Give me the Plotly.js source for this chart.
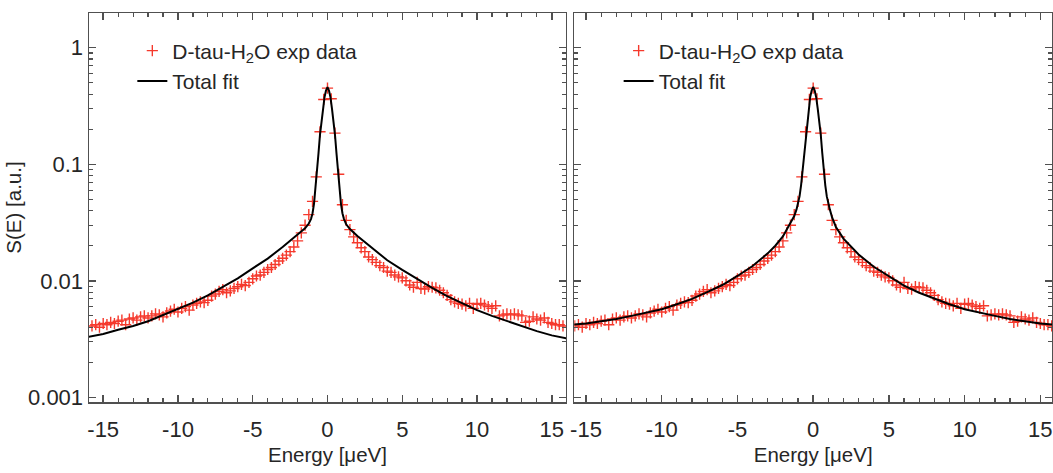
<!DOCTYPE html>
<html><head><meta charset="utf-8">
<script src="https://cdn.plot.ly/plotly-3.0.1.min.js"></script>
<style>html,body{margin:0;padding:0;background:#fff}</style>
</head><body><div id="chart" style="width:1053px;height:473px"></div>
<script>
// Energy grid of the experimental points [µeV]
const energy = [-15.75,-15.5,-15.25,-15,-14.75,-14.5,-14.25,-14,-13.75,-13.5,-13.25,-13,-12.75,-12.5,-12.25,-12,
 -11.75,-11.5,-11.25,-11,-10.75,-10.5,-10.25,-10,-9.75,-9.5,-9.25,-9,-8.75,-8.5,-8.25,-8,
 -7.75,-7.5,-7.25,-7,-6.75,-6.5,-6.25,-6,-5.75,-5.5,-5.25,-5,-4.75,-4.5,-4.25,-4,
 -3.75,-3.5,-3.25,-3,-2.75,-2.5,-2.25,-2,-1.75,-1.5,-1.25,-1,-0.75,-0.5,-0.25,0,
 0.25,0.5,0.75,1,1.25,1.5,1.75,2,2.25,2.5,2.75,3,3.25,3.5,3.75,4,
 4.25,4.5,4.75,5,5.25,5.5,5.75,6,6.25,6.5,6.75,7,7.25,7.5,7.75,8,
 8.25,8.5,8.75,9,9.25,9.5,9.75,10,10.25,10.5,10.75,11,11.25,11.5,11.75,12,
 12.25,12.5,12.75,13,13.25,13.5,13.75,14,14.25,14.5,14.75,15,15.25,15.5,15.75];
// D-tau-H2O experimental S(E)
const expData = [0.0041,0.0042,0.0040,0.0043,0.0042,0.0044,0.0043,0.0045,0.0046,0.0042,0.0047,0.0048,0.0046,0.0049,0.0050,0.0048,
 0.0050,0.0052,0.0051,0.0049,0.0053,0.0055,0.0057,0.0054,0.0058,0.0060,0.0056,0.0062,0.0064,0.0066,0.0065,0.0068,
 0.0074,0.0077,0.0081,0.0084,0.0079,0.0082,0.0086,0.0089,0.0093,0.0091,0.0097,0.0104,0.0110,0.0112,0.0118,0.0125,
 0.0130,0.0138,0.0148,0.0156,0.0166,0.0178,0.0195,0.0220,0.0258,0.0300,0.0370,0.0480,0.0780,0.190,0.360,0.450,
 0.365,0.185,0.082,0.045,0.033,0.0275,0.0238,0.0212,0.0192,0.0178,0.0160,0.0152,0.0144,0.0135,0.0130,0.0121,
 0.0118,0.0112,0.0108,0.0106,0.0100,0.0092,0.0088,0.0097,0.0086,0.0085,0.0089,0.0088,0.0087,0.0083,0.0079,0.0075,
 0.0069,0.0066,0.0064,0.0063,0.0061,0.0064,0.0058,0.0063,0.0064,0.0062,0.0060,0.0058,0.0061,0.0050,0.0051,0.0052,
 0.0051,0.0052,0.0051,0.0050,0.0044,0.0045,0.0049,0.0047,0.0046,0.0048,0.0044,0.0043,0.0042,0.0042,0.0041];
// Energy grid of the fit curves
const fitX = [-16,-15,-14,-13,-12,-11,-10,-9,-8,-7,-6,-5,-4,-3,-2.5,-2,-1.5,-1.25,-1.1,-1,-0.9,-0.8,-0.7,-0.6,-0.5,-0.4,-0.3,-0.2,-0.1,
 0,0.1,0.2,0.3,0.4,0.5,0.6,0.7,0.8,0.9,1,1.1,1.25,1.5,2,2.5,3,4,5,6,7,8,9,10,11,12,13,14,15,16];
// Total fit, left panel
const fitLeft = [0.0033,0.0035,0.0038,0.0041,0.0045,0.0051,0.0057,0.0065,0.0075,0.0088,0.0105,0.0128,0.0155,0.0195,0.0222,0.0250,0.0282,0.0310,0.0340,0.0380,0.046,0.062,0.087,0.125,0.18,0.235,0.30,0.375,0.43,
 0.46,0.43,0.375,0.30,0.235,0.18,0.125,0.087,0.062,0.046,0.038,0.034,0.0305,0.0278,0.0242,0.0215,0.0190,0.0150,0.0124,0.0103,0.0087,0.0074,0.0064,0.0056,0.0050,0.0045,0.0041,0.0037,0.0034,0.0032];
// Total fit, right panel
const fitRight = [0.0042,0.0043,0.0045,0.0047,0.0050,0.0053,0.0057,0.0063,0.0070,0.0080,0.0092,0.0110,0.0134,0.0172,0.0200,0.0240,0.031,0.036,0.041,0.046,0.053,0.066,0.088,0.125,0.18,0.235,0.30,0.375,0.43,
 0.46,0.43,0.375,0.30,0.235,0.18,0.125,0.088,0.066,0.053,0.046,0.041,0.035,0.029,0.023,0.0195,0.0168,0.0132,0.0109,0.0091,0.0079,0.0070,0.0063,0.0057,0.0053,0.0050,0.0047,0.0045,0.0043,0.0042];
// Tick labels
const xTickVals = [-15,-10,-5,0,5,10,15];
const xTickText = ['-15','-10','-5','0','5','10','15'];
const yTickVals = [0.001,0.01,0.1,1];
const yTickText = ['0.001','0.01','0.1','1'];
const yMinorVals = [0.002,0.003,0.004,0.005,0.006,0.007,0.008,0.009,0.02,0.03,0.04,0.05,0.06,0.07,0.08,0.09,0.2,0.3,0.4,0.5,0.6,0.7,0.8,0.9];
const expName = 'D-tau-H<sub>2</sub>O exp data';
const fitName = 'Total fit';

const axCol = '#505050';
const txtCol = '#262626';
const fam = '"Liberation Sans", Arial, sans-serif';
const redCol = '#f5392c';

function xAxis(domain, range, anchor) {
  return {domain: domain, range: range, anchor: anchor, tickmode: 'array', tickvals: xTickVals, ticktext: xTickText,
    ticks: 'inside', ticklen: 7, tickwidth: 1.5, tickcolor: axCol, ticklabelstandoff: 7,
    showline: true, linecolor: axCol, linewidth: 1.5, mirror: 'ticks', showgrid: false, zeroline: false,
    minor: {tickmode: 'linear', tick0: 0, dtick: 1, ticks: 'inside', ticklen: 4, tickwidth: 1.2, tickcolor: axCol, showgrid: false},
    tickfont: {family: fam, size: 22, color: txtCol},
    title: {text: 'Energy [μeV]', font: {family: fam, size: 20.5, color: txtCol}, standoff: 6}};
}
function yAxis(anchor, labels) {
  return {type: 'log', range: [-3.04, 0.298], anchor: anchor, tickmode: 'array', tickvals: yTickVals, ticktext: yTickText,
    showticklabels: labels,
    ticks: 'inside', ticklen: 7, tickwidth: 1.5, tickcolor: axCol,
    showline: true, linecolor: axCol, linewidth: 1.5, mirror: 'ticks', showgrid: false, zeroline: false,
    minor: {tickmode: 'array', tickvals: yMinorVals, ticks: 'inside', ticklen: 4, tickwidth: 1.2, tickcolor: axCol, showgrid: false},
    tickfont: {family: fam, size: 22, color: txtCol},
    title: labels ? {text: 'S(E) [a.u.]', font: {family: fam, size: 20.5, color: txtCol}, standoff: 1} : {text: ''}};
}

const markerStyle = {symbol: 'cross-thin', size: 8, color: redCol, line: {color: redCol, width: 1.4}};
const traces = [
  {x: energy, y: expData, type: 'scatter', mode: 'markers', marker: markerStyle, name: expName, xaxis: 'x', yaxis: 'y', legend: 'legend', legendgroup: 'a'},
  {x: fitX, y: fitLeft, type: 'scatter', mode: 'lines', line: {color: '#000', width: 2}, name: fitName, xaxis: 'x', yaxis: 'y', legend: 'legend', legendgroup: 'b'},
  {x: energy, y: expData, type: 'scatter', mode: 'markers', marker: markerStyle, name: expName, xaxis: 'x2', yaxis: 'y2', legend: 'legend2', legendgroup: 'c'},
  {x: fitX, y: fitRight, type: 'scatter', mode: 'lines', line: {color: '#000', width: 2}, name: fitName, xaxis: 'x2', yaxis: 'y2', legend: 'legend2', legendgroup: 'd'}
];

const legFont = {family: fam, size: 21, color: txtCol};
const layout = {
  width: 1053, height: 473,
  margin: {l: 89, r: 1, t: 13, b: 71},
  paper_bgcolor: '#fff', plot_bgcolor: '#fff',
  showlegend: true,
  xaxis: xAxis([0, 0.4953], [-15.95, 15.95], 'y'),
  yaxis: yAxis('x', true),
  xaxis2: xAxis([0.504, 1], [-15.77, 15.77], 'y2'),
  yaxis2: yAxis('x2', false),
  legend: {x: 0.045, y: 0.955, xanchor: 'left', yanchor: 'top', bgcolor: 'rgba(0,0,0,0)', font: legFont, traceorder: 'grouped', tracegroupgap: 0},
  legend2: {x: 0.55, y: 0.955, xanchor: 'left', yanchor: 'top', bgcolor: 'rgba(0,0,0,0)', font: legFont, traceorder: 'grouped', tracegroupgap: 0}
};

Plotly.newPlot('chart', traces, layout, {displayModeBar: false, staticPlot: true});
</script>
</body></html>
